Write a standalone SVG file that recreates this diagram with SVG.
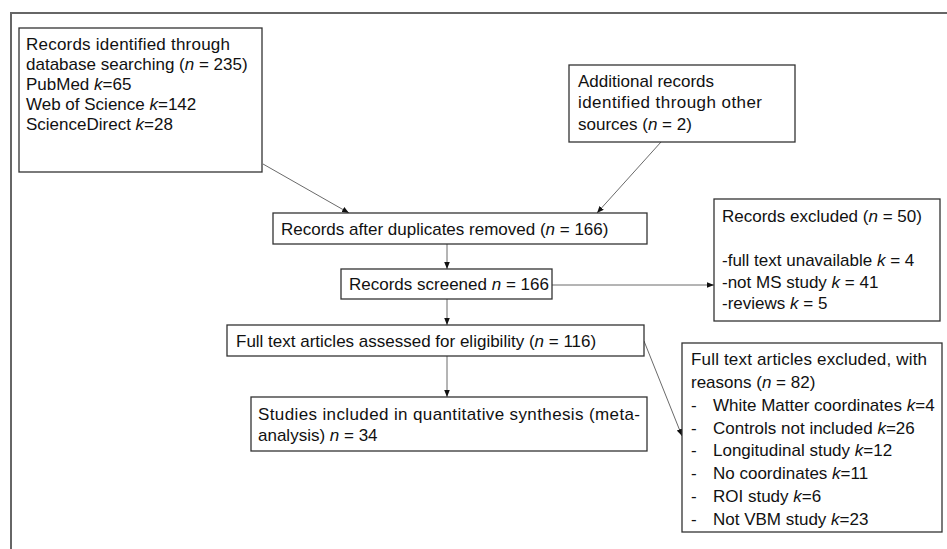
<svg xmlns="http://www.w3.org/2000/svg" width="947" height="549" viewBox="0 0 947 549">
<style>
text{font-family:"Liberation Sans",Arial,sans-serif;font-size:17px;fill:#111}
.b{fill:#fff;stroke:#333;stroke-width:1.3}
.c{stroke:#6a6a6a;stroke-width:1;fill:none;marker-end:url(#ah)}
.i{font-style:italic}
</style>
<defs>
<marker id="ah" viewBox="0 0 10 10" refX="10" refY="5" markerWidth="7" markerHeight="7" markerUnits="userSpaceOnUse" orient="auto">
<path d="M0,1 L10,5 L0,9 z" fill="#111"/>
</marker>
</defs>
<rect width="947" height="549" fill="#fff"/>
<path d="M11,549 V13 H947" fill="none" stroke="#666" stroke-width="2"/>
<g id="connectors">
<line class="c" x1="263" y1="164" x2="349" y2="213"/>
<line class="c" x1="661" y1="142" x2="597" y2="213"/>
<line class="c" x1="447" y1="244" x2="447" y2="269"/>
<line class="c" x1="552" y1="285" x2="714" y2="285"/>
<line class="c" x1="447" y1="299" x2="447" y2="325"/>
<line class="c" x1="447" y1="356" x2="447" y2="397"/>
<line class="c" x1="644" y1="341" x2="682" y2="436"/>
</g>
<g id="n1">
<rect class="b" x="19" y="28" width="243" height="144"/>
<text x="26" y="50" textLength="204">Records identified through</text>
<text x="26" y="70">database searching (<tspan class="i">n</tspan> = 235)</text>
<text x="26" y="90">PubMed <tspan class="i">k</tspan>=65</text>
<text x="26" y="110">Web of Science <tspan class="i">k</tspan>=142</text>
<text x="26" y="130">ScienceDirect <tspan class="i">k</tspan>=28</text>
</g>
<g id="n2">
<rect class="b" x="569" y="65" width="226" height="77"/>
<text x="578" y="87">Additional records</text>
<text x="578" y="108" textLength="184">identified through other</text>
<text x="578" y="130">sources (<tspan class="i">n</tspan> = 2)</text>
</g>
<g id="n3">
<rect class="b" x="273" y="213" width="374" height="31"/>
<text x="281" y="235">Records after duplicates removed (<tspan class="i">n</tspan> = 166)</text>
</g>
<g id="n4">
<rect class="b" x="341" y="269" width="211" height="30"/>
<text x="349" y="290">Records screened <tspan class="i">n</tspan> = 166</text>
</g>
<g id="n5">
<rect class="b" x="714" y="199" width="226" height="122"/>
<text x="722" y="222">Records excluded (<tspan class="i">n</tspan> = 50)</text>
<text x="722" y="266">-full text unavailable <tspan class="i">k</tspan> = 4</text>
<text x="722" y="288">-not MS study <tspan class="i">k</tspan> = 41</text>
<text x="722" y="309">-reviews <tspan class="i">k</tspan> = 5</text>
</g>
<g id="n6">
<rect class="b" x="227" y="325" width="417" height="31"/>
<text x="236" y="347">Full text articles assessed for eligibility (<tspan class="i">n</tspan> = 116)</text>
</g>
<g id="n7">
<rect class="b" x="251" y="397" width="396" height="54"/>
<text x="258" y="420" textLength="382">Studies included in quantitative synthesis (meta-</text>
<text x="258" y="441">analysis) <tspan class="i">n</tspan> = 34</text>
</g>
<g id="n8">
<rect class="b" x="682" y="343" width="260" height="189"/>
<text x="691" y="365" textLength="236">Full text articles excluded, with</text>
<text x="691" y="388">reasons (<tspan class="i">n</tspan> = 82)</text>
<text x="691" y="411">-</text><text x="713" y="411">White Matter coordinates <tspan class="i">k</tspan>=4</text>
<text x="691" y="434">-</text><text x="713" y="434">Controls not included <tspan class="i">k</tspan>=26</text>
<text x="691" y="456">-</text><text x="713" y="456">Longitudinal study <tspan class="i">k</tspan>=12</text>
<text x="691" y="479">-</text><text x="713" y="479">No coordinates <tspan class="i">k</tspan>=11</text>
<text x="691" y="502">-</text><text x="713" y="502">ROI study <tspan class="i">k</tspan>=6</text>
<text x="691" y="525">-</text><text x="713" y="525">Not VBM study <tspan class="i">k</tspan>=23</text>
</g>
</svg>
